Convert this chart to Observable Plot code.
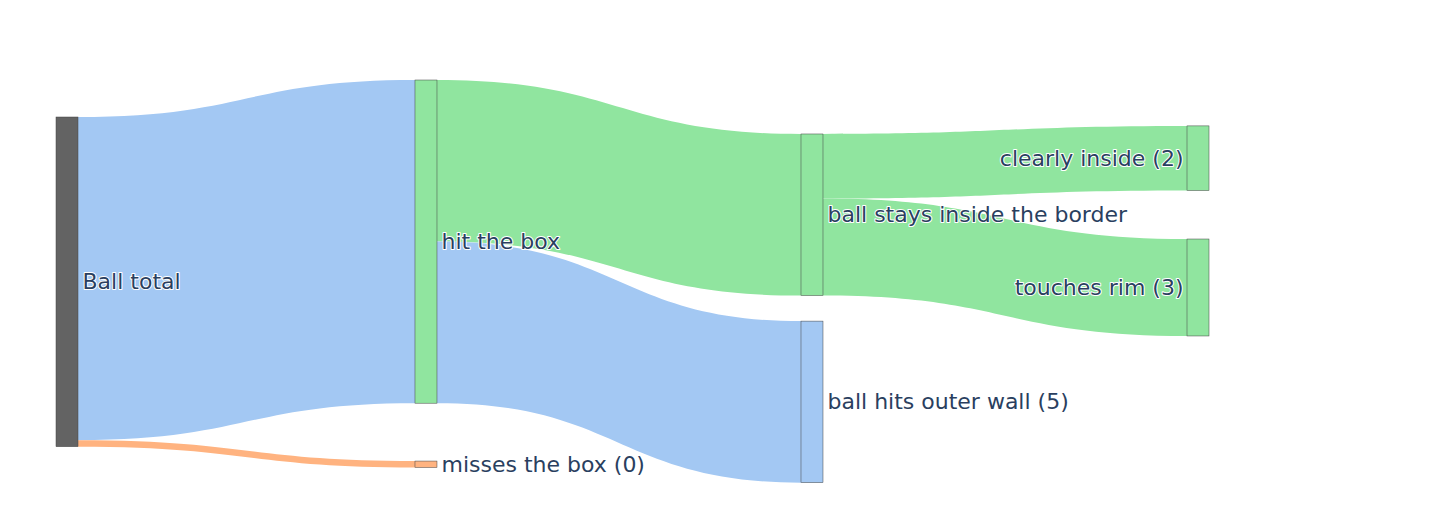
<!DOCTYPE html>
<html>
<head>
<meta charset="utf-8">
<script src="https://cdn.jsdelivr.net/npm/d3@7"></script>
<script src="https://cdn.jsdelivr.net/npm/@observablehq/plot@0.6"></script>
<style>
  html, body { margin: 0; padding: 0; background: #fff; }
  #chart svg { display: block; }
</style>
</head>
<body>
<div id="chart"></div>
<script>
// Nodes
const nodeLabels = ["Ball total", "hit the box", "misses the box (0)", "ball stays inside the border", "ball hits outer wall (5)", "clearly inside (2)", "touches rim (3)"];
const nodeColors = ["#636363", "#90e59f", "#ffb380", "#90e59f", "#a3c8f3", "#90e59f", "#90e59f"];
// column fraction (0..1) and node top (in value units)
const nodeX = [0, 0.3174, 0.3174, 0.6587, 0.6587, 1, 1];
const nodeY = [1.145, 0, 11.79, 1.67, 7.46, 1.42, 4.92];

// Links
const linkSource = [0, 0, 1, 1, 3, 3];
const linkTarget = [1, 2, 3, 4, 5, 6];
const linkValue = [10, 0.2, 5, 5, 2, 3];
const linkColors = ["#a3c8f3", "#ffb380", "#90e59f", "#a3c8f3", "#90e59f", "#90e59f"];

const W = 1432, H = 525;
const xRange = [56, 1187];
const nodePx = 22;
const nodeW = nodePx / (xRange[1] - xRange[0]);

// node values
const inSum = nodeLabels.map(() => 0), outSum = nodeLabels.map(() => 0);
linkValue.forEach((v, i) => { outSum[linkSource[i]] += v; inSum[linkTarget[i]] += v; });
const nodes = nodeLabels.map((label, i) => {
  const value = Math.max(inSum[i], outSum[i]);
  const last = nodeX[i] >= 1;
  return {
    label, fill: nodeColors[i], last,
    x1: nodeX[i], x2: nodeX[i] + nodeW,
    y1: nodeY[i], y2: nodeY[i] + value,
    yc: nodeY[i] + value / 2
  };
});

// link bands
const outOff = nodeLabels.map(() => 0), inOff = nodeLabels.map(() => 0);
const linkPts = [];
linkValue.forEach((v, i) => {
  const s = linkSource[i], t = linkTarget[i];
  const sy = nodes[s].y1 + outOff[s]; outOff[s] += v;
  const ty = nodes[t].y1 + inOff[t]; inOff[t] += v;
  linkPts.push({id: i, color: linkColors[i], x: nodes[s].x2, y1: sy, y2: sy + v});
  linkPts.push({id: i, color: linkColors[i], x: nodes[t].x1, y1: ty, y2: ty + v});
});

const textStyle = {
  fontSize: 22, fontFamily: "DejaVu Sans, Verdana, sans-serif", fill: "#2a3f5f",
  stroke: "white", strokeWidth: 2
};

const chart = Plot.plot({
  width: W, height: H,
  margin: 0,
  x: {domain: [0, 1], range: xRange, axis: null},
  y: {domain: [0, 12.5], range: [80, 484], axis: null},
  color: {type: "identity"},
  marks: [
    Plot.areaY(linkPts, {x: "x", y1: "y1", y2: "y2", z: "id", fill: "color", curve: "bump-x"}),
    Plot.rect(nodes, {x1: "x1", x2: "x2", y1: "y1", y2: "y2", fill: "fill", stroke: "#444", strokeWidth: 0.5}),
    Plot.text(nodes.filter(d => !d.last), {x: "x2", y: "yc", text: "label", textAnchor: "start", dx: 4, ...textStyle}),
    Plot.text(nodes.filter(d => d.last), {x: "x1", y: "yc", text: "label", textAnchor: "end", dx: -4, ...textStyle})
  ]
});
document.getElementById("chart").appendChild(chart);
</script>
</body>
</html>
